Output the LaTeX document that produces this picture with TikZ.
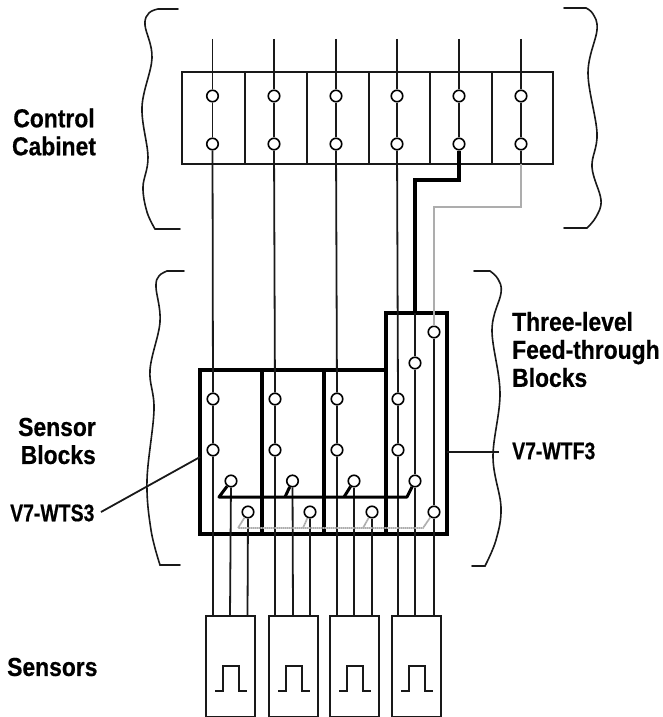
\documentclass[tikz,border=0pt]{standalone}
\usepackage{graphicx}
\usepackage{fontspec}
\setmainfont[FakeStretch=0.88,BoldFeatures={FakeBold=0.5}]{Liberation Sans}
\tikzset{
  wire/.style={line width=1.8pt,black!90},
  box/.style={line width=1.9pt,black!90},
  heavy/.style={line width=4.5pt,black},
  bus/.style={line width=3pt,black},
  feed/.style={line width=3.4pt,black},
  graybus/.style={line width=1.7pt,black!32,dash pattern=on 1.6pt off 0.4pt},
  term/.style={circle,draw=black,line width=1.6pt,fill=white,minimum size=11.5pt,inner sep=0pt},
  lab/.style={font=\bfseries\fontsize{26}{28}\selectfont,inner sep=0pt},
  tag/.style={font=\bfseries\fontsize{24}{26}\selectfont,inner sep=0pt},
  brace/.style={line width=1.6pt,black!90,line cap=round}
}
\begin{document}
\begin{tikzpicture}[x=1pt,y=-1pt]
\useasboundingbox (0,0) rectangle (662,717);
% control cabinet
\draw[box] (182,72) rectangle (553,164);
\foreach \x in {245,307,369,430,492}{\draw[box] (\x,72)--(\x,164);}
\foreach \x/\n in {212.5/1,274/2,336/3,397/4,459/5,521/6}{
  \node[term] (a\n) at (\x,96) {};
  \node[term] (b\n) at (\x,144) {};
  \coordinate (t\n) at (\x,39);
}
\foreach \i in {1,...,6}{\draw[wire] (t\i)--(a\i) (a\i)--(b\i);}
% blocks
\draw[heavy,line join=miter] (200,370) -- (386,370) -- (386,313) -- (447,313) -- (447,534) -- (200,534) -- cycle;
\draw[heavy] (262,370)--(262,534) (324,370)--(324,534) (386,370)--(386,534);
% lower wires
\foreach \x/\n in {213/1,275/2,337/3,398/4}{
  \node[term] (c\n) at (\x,399) {};
  \node[term] (d\n) at (\x,450) {};
  \coordinate (e\n) at (\x,616);
}
\foreach \i in {1,...,4}{\draw[wire] (b\i)--(c\i) (c\i)--(d\i) (d\i)--(e\i);}
% feed-through right column terminals
\node[term] (f1) at (415,363) {};
\node[term] (f2) at (415,481) {};
\node[term] (g1) at (434,332) {};
\node[term] (g2) at (434,512) {};
\coordinate (fe) at (415,616);
\coordinate (ge) at (434,616);
\draw[wire] (f1)--(f2) (f2)--(fe) (g1)--(g2) (g2)--(ge);
% block terminals
\foreach \x/\n in {231/1,292.5/2,354/3}{\node[term] (p\n) at (\x,481) {};}
\foreach \x/\n in {248/1,310/2,372/3}{\node[term] (q\n) at (\x,512) {};}
\foreach \x/\n in {230/1,293/2,354/3}{\coordinate (pe\n) at (\x,616);}
\foreach \x/\n in {247.5/1,310/2,372/3}{\coordinate (qe\n) at (\x,616);}
\foreach \i in {1,2,3}{\draw[wire] (p\i)--(pe\i) (q\i)--(qe\i);}
% black bus
\coordinate (bj) at (407,497);
\coordinate (b1e) at (219,497);
\coordinate (b2e) at (285,497);
\coordinate (b3e) at (344,497);
\draw[bus,line join=round] (f2)--(bj)--(b1e)--(p1);
\draw[bus] (b2e)--(p2) (b3e)--(p3);
% gray bus
\coordinate (gj) at (423,528);
\coordinate (g1e) at (238,528);
\coordinate (g2e) at (303,528);
\coordinate (g3e) at (363,528);
\draw[graybus] (g2)--(gj)--(g1e)--(q1);
\draw[graybus] (g2e)--(q2) (g3e)--(q3);
% output connections of cabinet
\coordinate (k1) at (459,180);
\coordinate (k2) at (415,180);
\coordinate (k3) at (415,313);
\draw[feed,line join=miter] (b5)--(k1)--(k2)--(k3);
\draw[wire] (k3)--(f1);
\coordinate (m0) at (521,164);
\coordinate (m1) at (521,207);
\coordinate (m2) at (434,207);
\draw[wire] (b6)--(m0);
\draw[graybus] (m0)--(m1)--(m2)--(g1);
% sensors
\foreach \x in {206,269,330,392}{
  \draw[box] (\x,716.5)--(\x,616)--(\x+49,616)--(\x+49,716.5)--cycle;
  \draw[wire] (\x+9,691)--(\x+17,691)--(\x+17,666)--(\x+33,666)--(\x+33,691)--(\x+41,691);
}
% braces
\draw[brace] (178,9) -- plot[smooth,tension=0.6] coordinates {(158,9) (149,13) (145,25) (152,58) (142,107) (148,157) (143,187) (147,212) (155,229)} -- (180,229);
\draw[brace] (564,8) -- plot[smooth,tension=0.6] coordinates {(586,8) (593,14) (597,30) (588,73) (597,133) (592,167) (601,200) (596,217) (587,228)} -- (564,228);
\draw[brace] (184,271) -- plot[smooth,tension=0.6] coordinates {(167,271) (159,276) (156,287) (160,322) (150,370) (154,410) (147,480) (151,530) (160,565)} -- (180,565);
\draw[brace] (474,271) -- plot[smooth,tension=0.6] coordinates {(490,271) (498,279) (501,293) (492,330) (500,393) (493,457) (501,507) (496,540) (485,566)} -- (472,566);
% labels
\node[lab,align=center] (l1) at (54,132) {Control\\Cabinet};
\node[lab,align=right,anchor=east] (l2) at (96,441) {Sensor\\Blocks};
\node[tag,anchor=west] (l3) at (10,513) {\scalebox{0.92}[1]{V7-WTS3}};
\node[lab,anchor=west,align=left] (l4) at (512,349.5) {Three-level\\Feed-through\\Blocks};
\node[tag,anchor=west] (l5) at (512,451) {\scalebox{0.92}[1]{V7-WTF3}};
\node[lab,anchor=west] (l6) at (7,667) {Sensors};
\coordinate (s1) at (101,512);
\coordinate (w1) at (200,457);
\coordinate (s2) at (499,452);
\coordinate (w2) at (447,452);
\draw[wire] (s1) -- (w1);
\draw[wire] (s2) -- (w2);
\end{tikzpicture}
\end{document}
